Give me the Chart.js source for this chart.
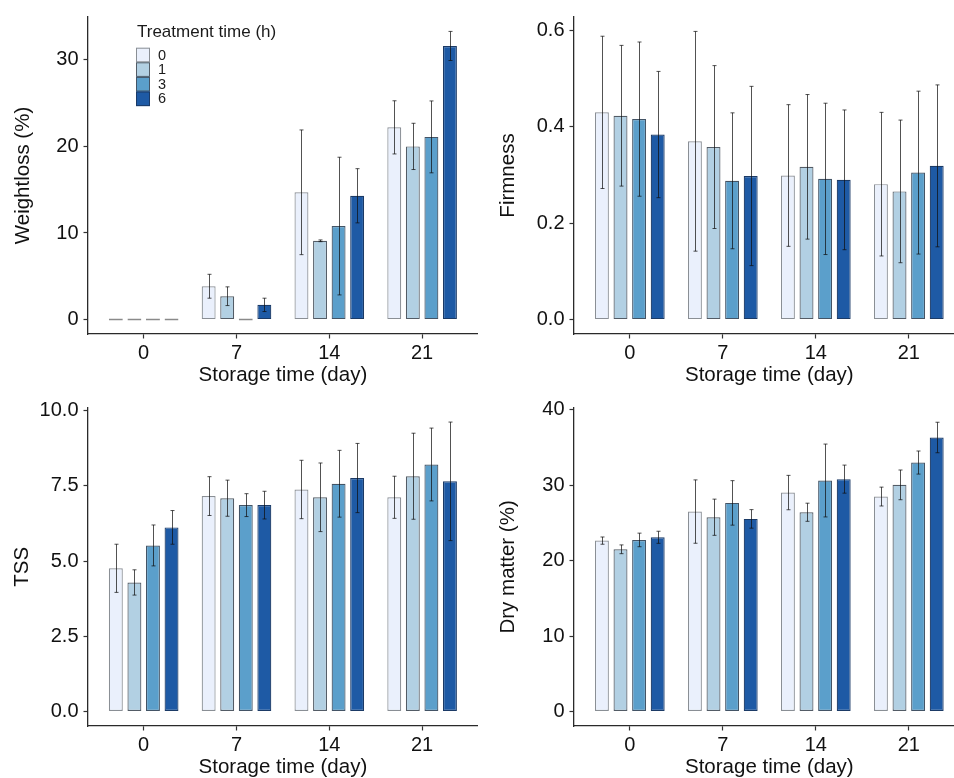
<!DOCTYPE html>
<html>
<head>
<meta charset="utf-8">
<script src="https://cdn.jsdelivr.net/npm/chart.js@4/dist/chart.umd.min.js"></script>
<style>
html, body { margin: 0; padding: 0; width: 954px; height: 778px; overflow: hidden; background: #ffffff; }
canvas { position: absolute; }
</style>
</head>
<body>
<canvas id="c1" width="480" height="390" style="left:0px;top:0px"></canvas>
<canvas id="c2" width="490" height="390" style="left:480px;top:0px"></canvas>
<canvas id="c3" width="480" height="400" style="left:0px;top:390px"></canvas>
<canvas id="c4" width="490" height="400" style="left:480px;top:390px"></canvas>
<script>
// ---------- data ----------
const storageDays = ['0', '7', '14', '21'];
const treatmentHours = ['0', '1', '3', '6'];

// rows = treatment time (0, 1, 3, 6 h); columns = storage day (0, 7, 14, 21)
const weightlossMean = [
  [0, 3.85, 14.7, 22.2],
  [0, 2.7, 9.1, 20.0],
  [0, 0, 10.8, 21.1],
  [0, 1.7, 14.3, 31.6]
];
const weightlossSD = [
  [0, 1.38, 7.2, 3.07],
  [0, 1.08, 0.1, 2.67],
  [0, 0, 7.95, 4.15],
  [0, 0.77, 3.13, 1.68]
];
const weightlossTicks = [0, 10, 20, 30];

const firmnessMean = [
  [0.430, 0.370, 0.299, 0.281],
  [0.423, 0.358, 0.317, 0.266],
  [0.416, 0.288, 0.292, 0.305],
  [0.384, 0.298, 0.290, 0.319]
];
const firmnessSD = [
  [0.158, 0.228, 0.147, 0.149],
  [0.146, 0.169, 0.150, 0.148],
  [0.160, 0.141, 0.157, 0.169],
  [0.131, 0.186, 0.145, 0.168]
];
const firmnessTicks = [0.0, 0.2, 0.4, 0.6];

const tssMean = [
  [4.76, 7.16, 7.38, 7.12],
  [4.29, 7.09, 7.12, 7.82],
  [5.52, 6.86, 7.57, 8.21],
  [6.12, 6.86, 7.76, 7.65]
];
const tssSD = [
  [0.80, 0.645, 0.97, 0.70],
  [0.42, 0.60, 1.14, 1.43],
  [0.68, 0.38, 1.11, 1.21],
  [0.56, 0.46, 1.15, 1.97]
];
const tssTicks = [0.0, 2.5, 5.0, 7.5, 10.0];

const dryMatterMean = [
  [22.66, 26.51, 29.03, 28.5],
  [21.51, 25.76, 26.42, 30.05],
  [22.75, 27.66, 30.63, 33.01],
  [23.1, 25.54, 30.81, 36.33]
];
const dryMatterSD = [
  [0.48, 4.2, 2.28, 1.25],
  [0.58, 2.4, 1.2, 1.97],
  [0.9, 2.95, 4.83, 1.53],
  [0.8, 1.23, 1.86, 2.02]
];
const dryMatterTicks = [0, 10, 20, 30, 40];

// ---------- styles ----------
const barColors = ['#eaf0fc', '#b2d0e3', '#5b9fcb', '#1e5aa5'];
const barBorders = ['#8a8f95', '#535c66', '#435466', '#1b3a66'];
const FONT = '"Liberation Sans", Arial, Helvetica, sans-serif';
Chart.defaults.font.family = FONT;

const errorBarPlugin = {
  id: 'errorBars',
  afterDatasetsDraw(chart) {
    const ctx = chart.ctx;
    const ys = chart.scales.y;
    chart.data.datasets.forEach((ds, i) => {
      const meta = chart.getDatasetMeta(i);
      meta.data.forEach((bar, j) => {
        const sd = ds.sd[j];
        if (!sd) return;
        const m = ds.data[j].y;
        const yt = ys.getPixelForValue(m + sd);
        const yb = ys.getPixelForValue(m - sd);
        const x = Math.round(bar.x) + 0.5;
        ctx.save();
        ctx.strokeStyle = 'rgba(15,15,15,0.72)';
        ctx.lineWidth = 1;
        ctx.beginPath();
        ctx.moveTo(x, yt); ctx.lineTo(x, yb);
        ctx.moveTo(x - 2, yt); ctx.lineTo(x + 2, yt);
        ctx.moveTo(x - 2, yb); ctx.lineTo(x + 2, yb);
        ctx.stroke();
        ctx.restore();
      });
    });
  }
};

const fillLegendPlugin = {
  id: 'fillLegend',
  afterDraw(chart) {
    const opts = chart.options.plugins.fillLegend;
    if (!opts || !opts.show) return;
    const ctx = chart.ctx;
    const a = chart.chartArea;
    ctx.save();
    ctx.fillStyle = '#1a1a1a';
    ctx.font = '17px ' + FONT;
    ctx.textBaseline = 'middle';
    ctx.textAlign = 'left';
    ctx.fillText(opts.title, a.left + 49, a.top + 15.5);
    const kx = a.left + 48, ky = a.top + 30.7, kw = 14, kh = 14.6;
    chart.data.datasets.forEach((ds, i) => {
      const y = ky + i * kh;
      ctx.fillStyle = barColors[i];
      ctx.fillRect(kx, y, kw, kh);
      ctx.strokeStyle = barBorders[i];
      ctx.lineWidth = 1;
      ctx.strokeRect(kx + 0.5, y + 0.5, kw - 1, kh - 1);
      ctx.fillStyle = '#1a1a1a';
      ctx.font = '14.5px ' + FONT;
      ctx.fillText(ds.label, a.left + 70, y + kh / 2 + 0.5);
    });
    ctx.restore();
  }
};

function makeChart(id, cfg) {
  const datasets = treatmentHours.map((h, i) => ({
    label: h,
    data: cfg.mean[i].map((v, j) => ({ x: j + 1, y: v })),
    sd: cfg.sd[i],
    backgroundColor: barColors[i],
    borderColor: (c) => (c.raw && c.raw.y === 0) ? '#8a8a8a' : barBorders[i],
    borderWidth: 1.2,
    borderSkipped: false,
    minBarLength: cfg.minBar || 0,
    categoryPercentage: 0.8,
    barPercentage: 0.75
  }));
  let hi = 0;
  cfg.mean.forEach((row, i) => row.forEach((v, j) => { hi = Math.max(hi, v + cfg.sd[i][j]); }));
  const lo = 0;
  const span = hi - lo;
  const ymin = lo - 0.05 * span, ymax = hi + 0.05 * span;
  const tickFont = { size: 20, family: FONT };
  const titleFont = { size: 20.5, family: FONT };
  return new Chart(document.getElementById(id), {
    type: 'bar',
    data: { datasets },
    options: {
      responsive: false,
      animation: false,
      devicePixelRatio: 1,
      layout: { padding: cfg.pad },
      plugins: {
        legend: { display: false },
        tooltip: { enabled: false },
        fillLegend: { show: !!cfg.legend, title: 'Treatment time (h)' }
      },
      scales: {
        x: {
          type: 'linear', min: 0.4, max: 4.6, bounds: 'data', offset: false,
          afterBuildTicks: (s) => { s.ticks = storageDays.map((d, j) => ({ value: j + 1 })); },
          afterFit: (s) => { s.height = cfg.xh; },
          ticks: {
            callback: (v) => storageDays[Math.round(v) - 1] ?? '',
            font: tickFont, color: '#111', padding: 2.5, maxRotation: 0, autoSkip: false
          },
          grid: { display: true, drawOnChartArea: false, drawTicks: true, tickLength: 4.5, tickWidth: 1.2, tickColor: '#333', offset: false },
          border: { display: true, color: '#2a2a2a', width: 1.3 },
          title: { display: true, text: 'Storage time (day)', font: titleFont, color: '#111', padding: { top: 0, bottom: cfg.xtp } }
        },
        y: {
          type: 'linear', min: ymin, max: ymax, bounds: 'data',
          afterBuildTicks: (s) => { s.ticks = cfg.ticks.map((v) => ({ value: v })); },
          afterFit: (s) => { s.width = cfg.yw; },
          ticks: { callback: (v) => cfg.fmt(v), font: tickFont, color: '#111', padding: 5 },
          grid: { display: true, drawOnChartArea: false, drawTicks: true, tickLength: 4.5, tickWidth: 1.2, tickColor: '#333' },
          border: { display: true, color: '#2a2a2a', width: 1.3 },
          title: { display: true, text: cfg.ytitle, font: titleFont, color: '#111', padding: { top: cfg.ytp, bottom: 0 } }
        }
      }
    },
    plugins: [errorBarPlugin, fillLegendPlugin]
  });
}

const intFmt = (v) => String(Math.round(v));
const oneDec = (v) => Number(v).toFixed(1);

makeChart('c1', {
  mean: weightlossMean, sd: weightlossSD, ticks: weightlossTicks, fmt: intFmt,
  ytitle: 'Weightloss (%)', minBar: 2, legend: true,
  pad: { top: 16, right: 2.2, bottom: 0, left: 0 }, yw: 88, xh: 56, xtp: 2.2, ytp: 11
});
makeChart('c2', {
  mean: firmnessMean, sd: firmnessSD, ticks: firmnessTicks, fmt: oneDec,
  ytitle: 'Firmness',
  pad: { top: 16, right: 5.4, bottom: 0, left: 0 }, yw: 94, xh: 56, xtp: 2.2, ytp: 16
});
makeChart('c3', {
  mean: tssMean, sd: tssSD, ticks: tssTicks, fmt: oneDec,
  ytitle: 'TSS',
  pad: { top: 17.6, right: 2.2, bottom: 0, left: 0 }, yw: 88, xh: 64, xtp: 10.5, ytp: 10.5
});
makeChart('c4', {
  mean: dryMatterMean, sd: dryMatterSD, ticks: dryMatterTicks, fmt: intFmt,
  ytitle: 'Dry matter (%)',
  pad: { top: 17.8, right: 5.4, bottom: 0, left: 0 }, yw: 94, xh: 64, xtp: 10.5, ytp: 16
});
</script>
</body>
</html>
